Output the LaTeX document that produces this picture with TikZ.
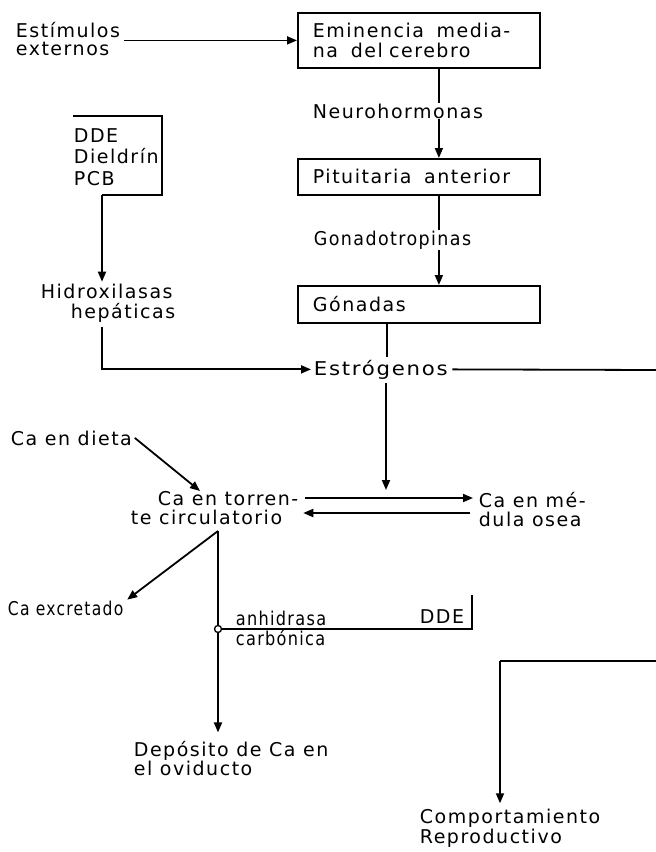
\documentclass[tikz,border=0pt]{standalone}
\usepackage{fontspec}
\usepackage{graphicx}
\setmainfont{DejaVu Sans}[LetterSpace=8]
\usetikzlibrary{arrows.meta,calc}
\begin{document}
\begin{tikzpicture}[x=1pt,y=-1pt,
  line width=1.8pt,
  every node/.style={inner sep=0pt, font=\fontsize{19}{19.5}\selectfont},
  lbl/.style={anchor=base west, align=left},
  box/.style={draw, rectangle, anchor=north west, text width=212pt, inner xsep=15pt, inner ysep=0pt, align=left},
  arr/.style={-{Triangle[length=10pt,width=8pt]}},
]
\useasboundingbox (0,0) rectangle (656,852);
% nodes (base = baseline of the last line)
\node[lbl, font=\fontsize{19}{18}\selectfont] (est) at (15,55) {Estímulos\\externos};
\node[box, minimum height=55pt, font=\fontsize{19}{20}\selectfont] (b1) at (297,12) {Eminencia\ \ media-\\na\ \ del cerebro};
\node[lbl] (nh) at (312,118) {Neurohormonas};
\node[box, minimum height=36pt] (b2) at (297,158) {Pituitaria\ \ anterior};
\node[lbl] (gt) at (313,245) {\scalebox{0.92}[1]{Gonadotropinas}};
\node[box, minimum height=37pt] (b3) at (297,285) {Gónadas};
\node[lbl] (es) at (313,375) {\scalebox{1.12}[1]{Estrógenos}};
\node[lbl, font=\fontsize{19}{21.5}\selectfont] (dd) at (73,185) {DDE\\Dieldrín\\PCB};
\node[lbl, font=\fontsize{19}{20}\selectfont] (hx) at (40,318) {Hidroxilasas\\\hspace*{30pt}hepáticas};
\node[lbl] (cd) at (10,445) {Ca en dieta};
\node[lbl, font=\fontsize{19}{18.5}\selectfont] (ct) at (130,524) {\hspace*{27pt}Ca en torren-\\te circulatorio};
\node[lbl, font=\fontsize{19}{18.5}\selectfont] (cm) at (478,526) {Ca en mé-\\dula osea};
\node[lbl] (cx) at (7,615) {\scalebox{0.82}[1]{Ca excretado}};
\node[draw, circle, minimum size=7pt, line width=1.3pt] (cc) at (218,629) {};
\node[lbl, font=\fontsize{19}{20}\selectfont] (an) at (235,645) {\scalebox{0.85}[1]{anhidrasa}\\\scalebox{0.85}[1]{carbónica}};
\node[anchor=base east] (dde2) at (465,623) {DDE};
\node[lbl, font=\fontsize{19}{18.5}\selectfont] (dp) at (133,775) {Depósito de Ca en\\el oviducto};
\node[lbl, font=\fontsize{19}{17.5}\selectfont] (cp) at (419,843) {Comportamiento\\Reproductivo};
% coordinates
\coordinate (r1) at (656,370);
\coordinate (r2) at (656,661);
\coordinate (k) at (500,661);
\coordinate (d1) at (73,116);
\coordinate (d2) at (162,116);
\coordinate (d3) at (162,195);
\coordinate (dv) at (102,195);
\coordinate (e1) at (386,490);
\coordinate (u1) at (0,498);
\coordinate (l1) at (0,513);
\coordinate (dt) at (200,491);
\coordinate (dc) at (472,595);
\coordinate (v0) at (218,531);
% connectors
\draw[arr] ([xshift=3pt]est.east |- b1.west) -- (b1.west);
\draw ([xshift=20pt]b1.south) -- ([xshift=20pt]b1.south |- nh.north);
\draw[arr] ([xshift=20pt]b1.south |- nh.south) -- ([xshift=20pt]b2.north);
\draw ([xshift=20pt]b2.south) -- ([xshift=20pt]b2.south |- gt.north);
\draw[arr] ([xshift=20pt]b2.south |- gt.south) -- ([xshift=20pt]b3.north);
\draw ([xshift=-32pt]b3.south) -- ($([xshift=-32pt]b3.south |- es.north)+(0,-2)$);
\draw ([xshift=4pt]es.east) -- (r1);
\draw (d1) -- (d2) -- (d3) -- (dv);
\draw[arr] (dv) -- ($(dv |- hx.north)+(0,-1)$);
\draw[arr] ($(dv |- hx.south)+(0,4)$) |- ([xshift=-2pt]es.west);
\draw[arr] ($(e1 |- es.south)+(0,3)$) -- (e1);
\draw[arr] ([xshift=6pt]ct.east |- u1) -- ([xshift=-5pt]cm.west |- u1);
\draw[arr] ([xshift=-8pt]cm.west |- l1) -- ([xshift=4pt]ct.east |- l1);
\draw[arr] ([xshift=2pt]cd.east) -- (dt);
\draw (v0) -- (cc);
\draw[arr] (cc) -- ($(cc |- dp.north)+(0,-8)$);
\draw[arr] (v0) -- ($(cx.north east)+(3,0)$);
\draw (cc.east) -- (dc |- cc) -- (dc);
\draw (r2) -- (k);
\draw[arr] (k) -- ($(k |- cp.north)+(0,-5)$);
\end{tikzpicture}
\end{document}
